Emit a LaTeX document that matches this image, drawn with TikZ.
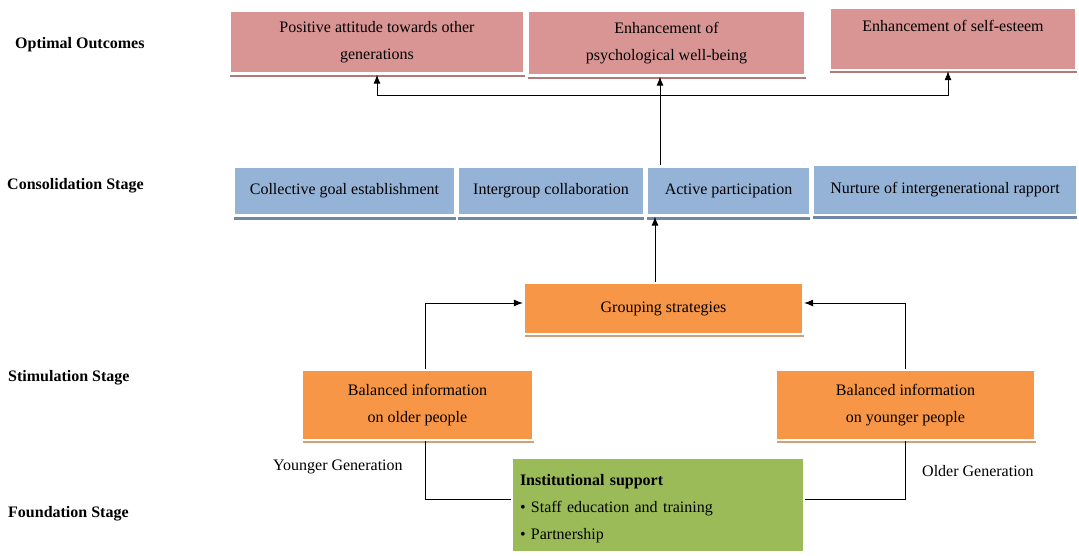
\documentclass[tikz,border=0pt]{standalone}
\usepackage{fontspec}
\setmainfont{Liberation Serif}
\usetikzlibrary{arrows.meta,shadows}
\definecolor{pinkf}{HTML}{D99594}
\definecolor{pinks}{HTML}{B07A79}
\definecolor{bluef}{HTML}{95B3D7}
\definecolor{blues}{HTML}{6F87A5}
\definecolor{orangef}{HTML}{F79646}
\definecolor{oranges}{HTML}{C9A27F}
\definecolor{greenf}{HTML}{9BBB59}
\definecolor{greens}{HTML}{C8C8C8}
\tikzset{
  box/.style={draw=white, line width=2.2pt, inner sep=0pt, align=center, font=\fontsize{16}{27}\selectfont, text=black},
  pinkbox/.style={box, fill=pinkf, drop shadow={shadow xshift=0pt, shadow yshift=-3pt, fill=pinks, opacity=1}},
  bluebox/.style={box, fill=bluef, drop shadow={shadow xshift=0pt, shadow yshift=-4pt, fill=blues, opacity=1}},
  orangebox/.style={box, fill=orangef, drop shadow={shadow xshift=1pt, shadow yshift=-3pt, fill=oranges, opacity=1}},
  greenbox/.style={box, fill=greenf, align=left, drop shadow={shadow xshift=1pt, shadow yshift=-1pt, fill=greens, opacity=1}},
  stage/.style={font=\fontsize{16}{20}\selectfont\bfseries, anchor=west, inner sep=0pt},
  gen/.style={font=\fontsize{16}{20}\selectfont, anchor=west, inner sep=0pt, text=black},
  arr/.style={-{Latex[length=9pt,width=7pt]}, line width=1pt, black},
  ln/.style={line width=1pt, black}
}
\begin{document}
\begin{tikzpicture}[x=1pt,y=-1pt]
\useasboundingbox (0,0) rectangle (1079,555);
% stage labels
\node[stage] (s1) at (15,45) {Optimal Outcomes};
\node[stage] (s2) at (7,186) {Consolidation Stage};
\node[stage] (s3) at (8,378) {Stimulation Stage};
\node[stage] (s4) at (8,514) {Foundation Stage};
% outcomes
\node[pinkbox, minimum width=295pt, minimum height=63pt] (o1) at (377,42) {Positive attitude towards other\\generations};
\node[pinkbox, minimum width=278pt, minimum height=65pt] (o2) at (666.5,43) {Enhancement of\\psychological well-being};
\node[pinkbox, minimum width=247pt, minimum height=62pt] (o3) at (953,39) {Enhancement of self-esteem\\\mbox{}};
% consolidation
\node[bluebox, minimum width=222pt, minimum height=49pt] (c1) at (344.5,191) {Collective goal establishment};
\node[bluebox, minimum width=186pt, minimum height=49pt] (c2) at (551,191) {Intergroup collaboration};
\node[bluebox, minimum width=163pt, minimum height=49pt] (c3) at (728.5,191) {Active participation};
\node[bluebox, minimum width=264pt, minimum height=50pt] (c4) at (945,190) {Nurture of intergenerational rapport};
% stimulation
\node[orangebox, minimum width=279pt, minimum height=51pt] (g) at (663.5,308.5) {Grouping strategies};
\node[orangebox, minimum width=231pt, minimum height=70pt] (b1) at (417.5,405) {Balanced information\\on older people};
\node[orangebox, minimum width=259pt, minimum height=70pt] (b2) at (905.5,405) {Balanced information\\on younger people};
% foundation
\node[greenbox, minimum width=292pt, minimum height=94pt, text width=276pt, text height=18pt] (inst) at (658,505) {\textbf{Institutional support}\\\textbullet\ Staff education and training\\\textbullet\ Partnership};
\node[gen] (yg) at (273,467) {Younger Generation};
\node[gen] (og) at (922,471) {Older Generation};
% connectors
\coordinate (j) at (660,95);
\draw[arr] ([xshift=-68.5pt]c3.north) -- ([xshift=-6.5pt]o2.south);
\draw[arr] (j) -| (o1.south);
\draw[arr] (j) -| ([xshift=-5pt]o3.south);
\draw[arr] ([xshift=-8.5pt]g.north) -- ([xshift=-73.5pt]c3.south);
\draw[arr] ([xshift=7.5pt]b1.north) |- ([yshift=5.5pt]g.west);
\draw[arr] (b2.north) |- ([yshift=5.5pt]g.east);
\draw[ln] ([xshift=7.5pt]b1.south) |- ([yshift=6pt]inst.west);
\draw[ln] (b2.south) |- ([yshift=6pt]inst.east);
\end{tikzpicture}
\end{document}
